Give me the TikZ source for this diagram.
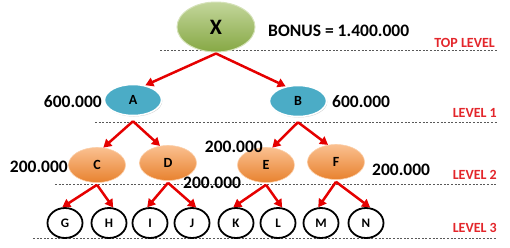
\documentclass[tikz,border=0pt]{standalone}
\usepackage{fontspec}
\setmainfont{Carlito}
\usetikzlibrary{positioning, arrows.meta, shapes.geometric, shadows}
\definecolor{topgreen}{HTML}{C3D69B}
\definecolor{basegreen}{HTML}{86A844}
\definecolor{levelblue}{HTML}{4BACC6}
\definecolor{toporange}{HTML}{FAC090}
\definecolor{baseorange}{HTML}{E46C0A}
\definecolor{levelred}{HTML}{E3262B}

\tikzset{
  boss/.style={ellipse, top color=topgreen, bottom color=basegreen, draw=topgreen!70!white,
    line width=1pt, minimum width=78pt, minimum height=50pt, inner sep=0pt,
    font=\fontsize{22}{22}\selectfont\bfseries},
  lvlone/.style={ellipse, fill=levelblue, draw=white, line width=1.5pt,
    drop shadow={shadow xshift=0.8pt, shadow yshift=-1pt, opacity=0.35},
    minimum width=57pt, minimum height=31pt, inner sep=0pt,
    font=\fontsize{14}{14}\selectfont\bfseries},
  lvltwo/.style={ellipse, top color=toporange, bottom color=baseorange!85!white,
    draw=toporange!80!white, line width=0.6pt,
    minimum width=57pt, minimum height=35pt, inner sep=0pt,
    font=\fontsize{14}{14}\selectfont\bfseries},
  lvlthree/.style={ellipse, fill=white, draw=black, line width=1.8pt,
    minimum width=35pt, minimum height=30pt, inner sep=0pt,
    font=\fontsize{13}{13}\selectfont\bfseries},
  amount/.style={inner sep=0pt, font=\fontsize{17.5}{17.5}\selectfont\bfseries},
  levelname/.style={inner sep=0pt, text=levelred, font=\fontsize{14}{14}\selectfont\bfseries},
  levelline/.style={gray!70!black, line width=0.9pt, dash pattern=on 2pt off 1.6pt},
  payout/.style={red!90!black, line width=2.5pt, -{Triangle[length=8pt, width=9pt]}}
}

\begin{document}
\begin{tikzpicture}[x=1pt, y=-1pt]
  \useasboundingbox (0,0) rectangle (510,247);

  % level separators
  \draw[levelline] (160,50) -- (497,50);
  \draw[levelline] (95,122) -- (497,122);
  \draw[levelline] (55,184) -- (497,184);
  \draw[levelline] (33,238) -- (497,238);

  \node[levelname, anchor=east] (toplbl) at (495,43) {TOP LEVEL};
  \node[levelname, anchor=east] (onelbl) at (497,113) {LEVEL 1};
  \node[levelname, anchor=east] (twolbl) at (497,175) {LEVEL 2};
  \node[levelname, anchor=east] (threelbl) at (497,228) {LEVEL 3};

  % top
  \node[boss] (X) at (216,27) {X};
  \node[amount, anchor=west] (bonus) at (268,31) {BONUS = 1.400.000};

  % level 1
  \node[lvlone] (A) at (133,100) {A};
  \node[lvlone] (B) at (298,101) {B};
  \node[amount, anchor=east] (amtA) at (102,102) {600.000};
  \node[amount, anchor=west] (amtB) at (332,102) {600.000};

  % level 2
  \node[lvltwo] (C) at (97,165) {C};
  \node[lvltwo] (D) at (168,163) {D};
  \node[lvltwo] (E) at (266,165) {E};
  \node[lvltwo] (F) at (336,162) {F};
  \node[amount, anchor=east] (amtC) at (68,167) {200.000};
  \node[amount, anchor=west] (amtD) at (183,183) {200.000};
  \node[amount, anchor=east] (amtE) at (263,147) {200.000};
  \node[amount, anchor=west] (amtF) at (372,170) {200.000};

  % level 3
  \foreach \name/\xpos in {G/65, H/109, I/150, J/192, K/236, L/278, M/321, N/366}
    \node[lvlthree] (\name) at (\xpos,223) {\name};

  % payouts
  \draw[payout] ([yshift=-1pt]X.south) -- (A.50);
  \draw[payout] ([yshift=-1pt]X.south) -- (B.130);
  \foreach \up/\left/\right in {A/C/D, B/E/F}{
    \draw[payout] ([yshift=-5pt]\up.south) -- (\left.70);
    \draw[payout] ([yshift=-5pt]\up.south) -- (\right.115);
  }
  \foreach \up/\left/\right in {C/G/H, D/I/J, E/K/L, F/M/N}{
    \draw[payout] ([yshift=-2pt]\up.south) -- (\left.100);
    \draw[payout] ([yshift=-2pt]\up.south) -- (\right.75);
  }
\end{tikzpicture}
\end{document}
